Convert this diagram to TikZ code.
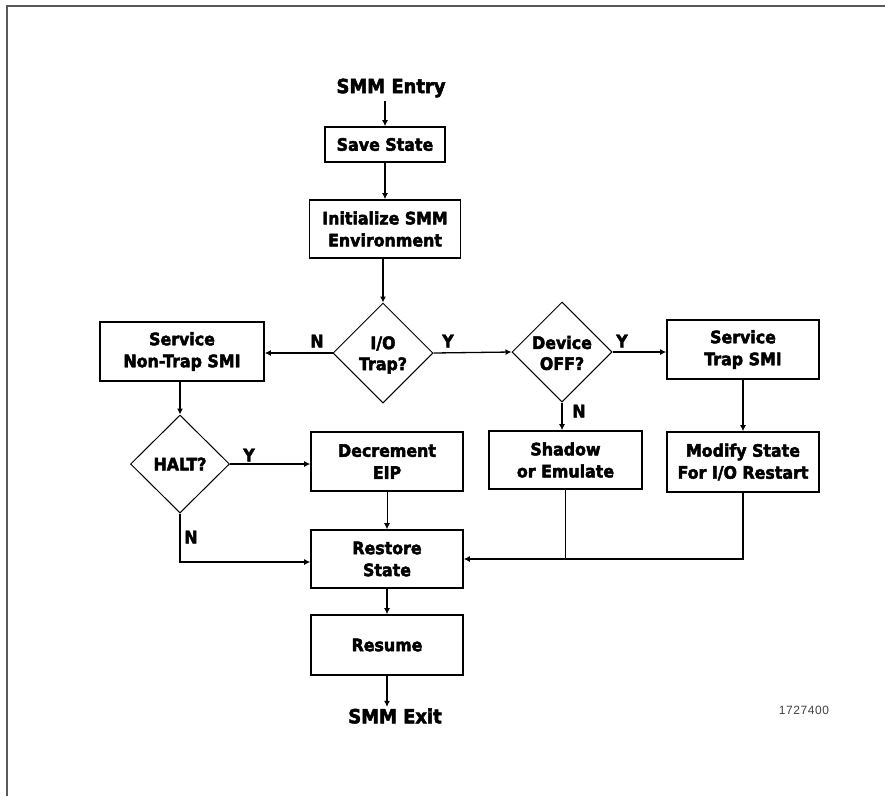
\documentclass[tikz,border=0pt]{standalone}
\usepackage{fontspec}
\setmainfont{DejaVu Sans}[BoldFeatures={FakeBold=2.6,FakeStretch=0.92}]
\newfontfamily\numfont{Liberation Sans}
\usetikzlibrary{arrows.meta,shapes.geometric}
\begin{document}
\begin{tikzpicture}[x=1pt,y=-1pt,
  box/.style={draw, fill=white, line width=1.6pt, align=center, inner sep=0pt,
    font=\bfseries\fontsize{17.2}{22}\selectfont},
  dia/.style={draw, diamond, line width=1pt, minimum width=100pt, minimum height=100pt, inner sep=0pt},
  dtext/.style={align=center, font=\bfseries\fontsize{17.2}{21}\selectfont},
  lbl/.style={font=\bfseries\fontsize{17.2}{18}\selectfont},
  term/.style={font=\bfseries\fontsize{19.5}{20}\selectfont},
  arr/.style={line width=2pt, -{Latex[length=6pt,width=6pt]}},
  harr/.style={line width=1.3pt, -{Latex[length=6pt,width=6pt]}},
  tarr/.style={line width=1pt, -{Latex[length=6pt,width=6pt]}},
  conn/.style={line width=1.3pt}]
\useasboundingbox (0,0) rectangle (885,796);
% frame
\draw[line width=2pt, black!65] (7,796) -- (7,6) -- (885,6);

% nodes
\node[term] (entry) at (391,88) {SMM Entry};
\node[box, minimum width=120pt, minimum height=35pt] (save) at (385,144.5) {Save State};
\node[box, minimum width=151pt, minimum height=58pt] (init) at (385,229) {Initialize SMM\\Environment};
\node[dia] (iot) at (383,353) {};
\node[dtext] (iott) at (383,355) {I/O\\Trap?};
\node[box, minimum width=164pt, minimum height=59pt] (nontrap) at (182,351.5) {Service\\Non-Trap SMI};
\node[dia] (dev) at (562,352) {};
\node[dtext] (devt) at (562,353) {Device\\OFF?};
\node[box, minimum width=152pt, minimum height=59pt] (trap) at (743,349.5) {Service\\Trap SMI};
\node[dia, minimum width=99pt, minimum height=98pt] (halt) at (180,464) {};
\node[dtext] (haltt) at (180,464) {HALT?};
\node[box, minimum width=152pt, minimum height=59pt] (dec) at (387,461.5) {Decrement\\EIP};
\node[box, minimum width=153pt, minimum height=58pt] (shadow) at (565.5,460) {Shadow\\or Emulate};
\node[box, minimum width=152pt, minimum height=60pt] (modify) at (743,462) {Modify State\\For I/O Restart};
\node[box, minimum width=152pt, minimum height=58pt] (restore) at (387,559) {Restore\\State};
\node[box, minimum width=152pt, minimum height=60pt] (resume) at (387,645) {Resume};
\node[term] (exit) at (395,716) {SMM Exit};
\node[font=\numfont\fontsize{12}{13}\selectfont, text=black!75] (num) at (804,710) {1\kern0.6pt7\kern0.6pt2\kern0.6pt7\kern0.6pt4\kern0.6pt0\kern0.6pt0};

% labels
\node[lbl] (ln1) at (317,341) {N};
\node[lbl] (ly1) at (448,341) {Y};
\node[lbl] (ly2) at (622,341) {Y};
\node[lbl] (ln2) at (579,411) {N};
\node[lbl] (ly3) at (249,455) {Y};
\node[lbl] (ln3) at (191,537) {N};

% connectors
\draw[arr] (entry.south -| save.north) -- (save.north);
\draw[arr] (save.south) -- (save.south |- init.north);
\draw[arr] (init.south -| iot.north) -- (iot.north);
\draw[harr] (iot.west) -- (iot.west -| nontrap.east);
\draw[harr] (iot.east) -- (dev.west);
\draw[harr] (dev.east) -- (dev.east -| trap.west);
\draw[harr] (dev.south) -- (dev.south |- shadow.north);
\draw[arr] (trap.south) -- (modify.north);
\draw[arr] (nontrap.south -| halt.north) -- (halt.north);
\draw[harr] (halt.east) -- (halt.east -| dec.west);
\draw[harr] (halt.south) |- ([yshift=-3pt]restore.west);
\draw[tarr] (dec.south) -- (restore.north);
\draw[conn] (shadow.south) -- (shadow.south |- restore.east);
\draw[harr] (modify.south) |- (restore.east);
\draw[arr] (restore.south) -- (resume.north);
\draw[arr] (resume.south) -- ([yshift=-2pt]resume.south |- exit.north);
\end{tikzpicture}
\end{document}
